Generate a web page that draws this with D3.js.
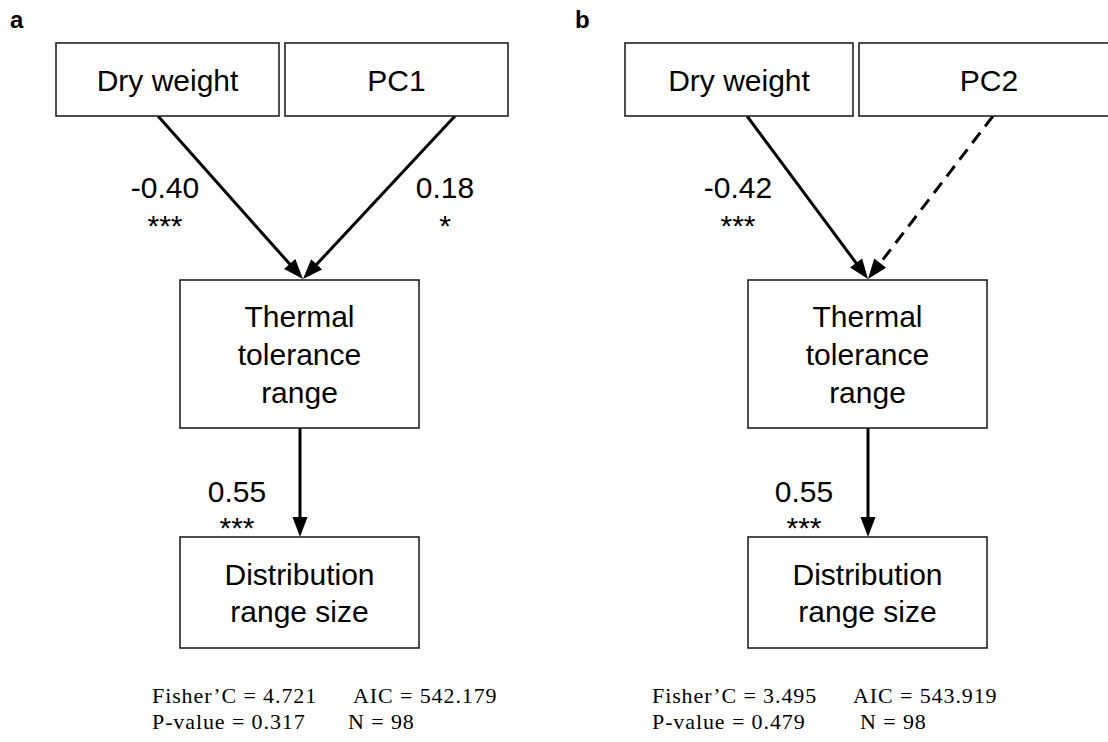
<!DOCTYPE html>
<html>
<head>
<meta charset="utf-8">
<script src="https://cdn.jsdelivr.net/npm/d3@7"></script>
<style>
  body { margin: 0; background: white; }
</style>
</head>
<body>
<div id="chart"></div>
<script>
// data
const panelLabels = ["a", "b"];
const predictorNames = [["Dry weight", "PC1"], ["Dry weight", "PC2"]];
const mediatorLines = ["Thermal", "tolerance", "range"];
const responseLines = ["Distribution", "range size"];
// path coefficients: [dry weight -> TTR, PC -> TTR, TTR -> range size]
const pathCoefs = [[-0.40, 0.18, 0.55], [-0.42, null, 0.55]];
const pathSig = [["***", "*", "***"], ["***", "", "***"]];
const fisherC = [4.721, 3.495];
const aicValues = [542.179, 543.919];
const pValues = [0.317, 0.479];
const sampleN = [98, 98];

document.addEventListener("DOMContentLoaded", function() {
    // layout for each panel (pixels)
    const layout = [
        {
            label: [10, 28],
            topBoxes: [[56, 43, 223, 73], [285, 43, 223, 73]],
            midBox: [180, 280, 239, 148],
            lowBox: [180, 537, 239, 111],
            starts: [[158, 116], [455, 116]],
            tip: [303, 279],
            vx: 300,
            coefX: [165, 445, 237],
            statX: [152, 353, 348]
        },
        {
            label: [575, 28],
            topBoxes: [[625, 43, 228, 73], [859, 43, 260, 73]],
            midBox: [748, 280, 239, 148],
            lowBox: [748, 537, 239, 111],
            starts: [[747, 116], [993, 116]],
            tip: [868, 279],
            vx: 868,
            coefX: [738, 0, 804],
            statX: [652, 853, 860]
        }
    ];

    const fmt = d3.formatLocale({decimal: ".", thousands: ",", grouping: [3], currency: ["", ""], minus: "-"}).format(".2f");
    const sans = "Liberation Sans, Arial, sans-serif";
    const serif = "Liberation Serif, Times New Roman, serif";

    const svg = d3.select("#chart").append("svg")
        .attr("width", 1108)
        .attr("height", 742);

    function drawBox(g, b) {
        g.append("rect")
            .attr("x", b[0])
            .attr("y", b[1])
            .attr("width", b[2])
            .attr("height", b[3])
            .attr("fill", "white")
            .attr("stroke", "#222")
            .attr("stroke-width", 1.6);
    }

    function boxText(g, lines, cx, firstBaseline, step) {
        g.selectAll(null)
            .data(lines)
            .enter()
            .append("text")
            .attr("x", cx)
            .attr("y", (d, i) => firstBaseline + i * step)
            .attr("text-anchor", "middle")
            .attr("font-family", sans)
            .attr("font-size", "30px")
            .attr("fill", "black")
            .text(d => d);
    }

    // arrow with filled head, tip exactly at (x2, y2)
    function drawArrow(g, x1, y1, x2, y2, dashed) {
        const headLen = 20, headHalf = 7.5;
        const dx = x2 - x1, dy = y2 - y1;
        const len = Math.sqrt(dx * dx + dy * dy);
        const ux = dx / len, uy = dy / len;
        const bx = x2 - ux * headLen, by = y2 - uy * headLen;

        g.append("line")
            .attr("x1", x1)
            .attr("y1", y1)
            .attr("x2", bx + ux * 2)
            .attr("y2", by + uy * 2)
            .attr("stroke", "black")
            .attr("stroke-width", 3)
            .attr("stroke-dasharray", dashed ? "13,8" : null);

        g.append("path")
            .attr("d", d3.line()([
                [x2, y2],
                [bx - uy * headHalf, by + ux * headHalf],
                [bx + uy * headHalf, by - ux * headHalf]
            ]) + "Z")
            .attr("fill", "black");
    }

    function coefLabel(g, x, baseline, coef, sig, gap) {
        g.append("text")
            .attr("x", x)
            .attr("y", baseline)
            .attr("text-anchor", "middle")
            .attr("font-family", sans)
            .attr("font-size", "30px")
            .text(fmt(coef));
        g.append("text")
            .attr("x", x)
            .attr("y", baseline + gap)
            .attr("text-anchor", "middle")
            .attr("font-family", sans)
            .attr("font-size", "30px")
            .text(sig);
    }

    panelLabels.forEach(function(lab, p) {
        const L = layout[p];
        const g = svg.append("g");

        // panel letter
        g.append("text")
            .attr("x", L.label[0])
            .attr("y", L.label[1])
            .attr("font-family", sans)
            .attr("font-weight", "bold")
            .attr("font-size", "24px")
            .text(lab);

        // arrows first, boxes drawn after so they sit on top
        L.starts.forEach(function(s, i) {
            const dashed = pathCoefs[p][i] === null;
            drawArrow(g, s[0], s[1], L.tip[0], L.tip[1], dashed);
        });
        drawArrow(g, L.vx, L.midBox[1] + L.midBox[3], L.vx, L.lowBox[1], false);

        // predictor boxes
        L.topBoxes.forEach(function(b, i) {
            drawBox(g, b);
            boxText(g, [predictorNames[p][i]], b[0] + b[2] / 2, 91, 0);
        });

        // mediator and response
        drawBox(g, L.midBox);
        boxText(g, mediatorLines, L.midBox[0] + L.midBox[2] / 2, 327, 38);
        drawBox(g, L.lowBox);
        boxText(g, responseLines, L.lowBox[0] + L.lowBox[2] / 2, 585, 37);

        // path coefficients
        if (pathCoefs[p][0] !== null) coefLabel(g, L.coefX[0], 198, pathCoefs[p][0], pathSig[p][0], 38);
        if (pathCoefs[p][1] !== null) coefLabel(g, L.coefX[1], 198, pathCoefs[p][1], pathSig[p][1], 38);
        if (pathCoefs[p][2] !== null) coefLabel(g, L.coefX[2], 502, pathCoefs[p][2], pathSig[p][2], 36);

        // model fit statistics
        const stats = [
            [L.statX[0], 703, "Fisher\u2019C = " + fisherC[p].toFixed(3)],
            [L.statX[1], 703, "AIC = " + aicValues[p].toFixed(3)],
            [L.statX[0], 729, "P-value = " + pValues[p].toFixed(3)],
            [L.statX[2], 729, "N = " + sampleN[p]]
        ];
        g.selectAll(null)
            .data(stats)
            .enter()
            .append("text")
            .attr("x", d => d[0])
            .attr("y", d => d[1])
            .attr("font-family", serif)
            .attr("font-size", "22px")
            .attr("letter-spacing", "0.9px")
            .attr("fill", "black")
            .text(d => d[2]);
    });
});
</script>
</body>
</html>
